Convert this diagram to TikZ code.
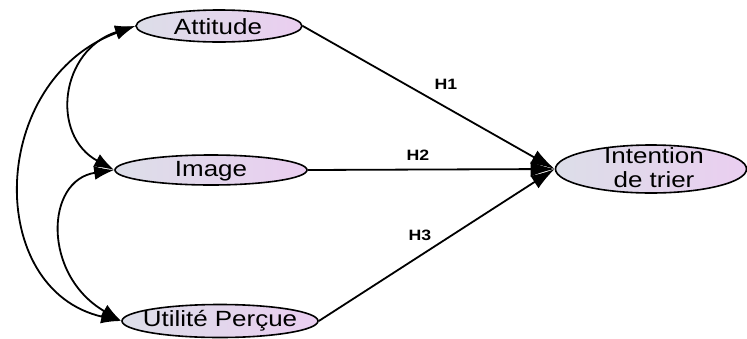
\documentclass[tikz,border=0pt]{standalone}
\usepackage{fontspec}
\setmainfont{Liberation Sans}
\newfontfamily\widefont[FakeStretch=1.18]{Liberation Sans}
\usetikzlibrary{shapes.geometric,arrows.meta}
\definecolor{fillL}{RGB}{220,222,232}
\definecolor{fillR}{RGB}{234,206,240}
\tikzset{
  latent/.style={ellipse, draw=black, line width=1.6pt, left color=fillL, right color=fillR, inner sep=0pt},
  nodetext/.style={font=\widefont\fontsize{22}{24}\selectfont, align=center, inner sep=0pt},
  hlabel/.style={font=\widefont\bfseries\fontsize{15}{17}\selectfont, inner sep=0pt},
  hpath/.style={line width=1.8pt, -{Latex[length=24pt,width=15pt]}},
  cov/.style={line width=1.8pt, {Latex[length=20pt,width=14pt]}-{Latex[length=20pt,width=14pt]}},
}
\begin{document}
\begin{tikzpicture}[x=1pt,y=-1pt]
\useasboundingbox (0,0) rectangle (747,338);
\node[latent, minimum width=166pt, minimum height=32pt] (att) at (219,26) {};
\node[nodetext] (attT) at (218,27) {Attitude};
\node[latent, minimum width=192pt, minimum height=30pt] (img) at (211,170) {};
\node[nodetext] (imgT) at (211,171) {Image};
\node[latent, minimum width=196pt, minimum height=33pt] (uti) at (220,321) {};
\node[nodetext] (utiT) at (220,321) {Utilité Perçue};
\node[latent, minimum width=191pt, minimum height=48pt] (int) at (651,169) {};
\node[nodetext] (intT) at (654,168) {Intention\\de trier};
\draw[hpath] (att.east) -- (int.west);
\draw[hpath] (img.east) -- (int.west);
\draw[hpath] (uti.east) -- (int.west);
\node[hlabel] (h1) at (446,84) {H1};
\node[hlabel] (h2) at (418,155) {H2};
\node[hlabel] (h3) at (420,235) {H3};
\draw[cov] (att.west) .. controls (60,50) and (50,135) .. (img.west);
\draw[cov] (img.west) .. controls (45,180) and (42,275) .. (uti.west);
\draw[cov] (att.west) .. controls (-12,80) and (-16,290) .. (uti.west);
\end{tikzpicture}
\end{document}
